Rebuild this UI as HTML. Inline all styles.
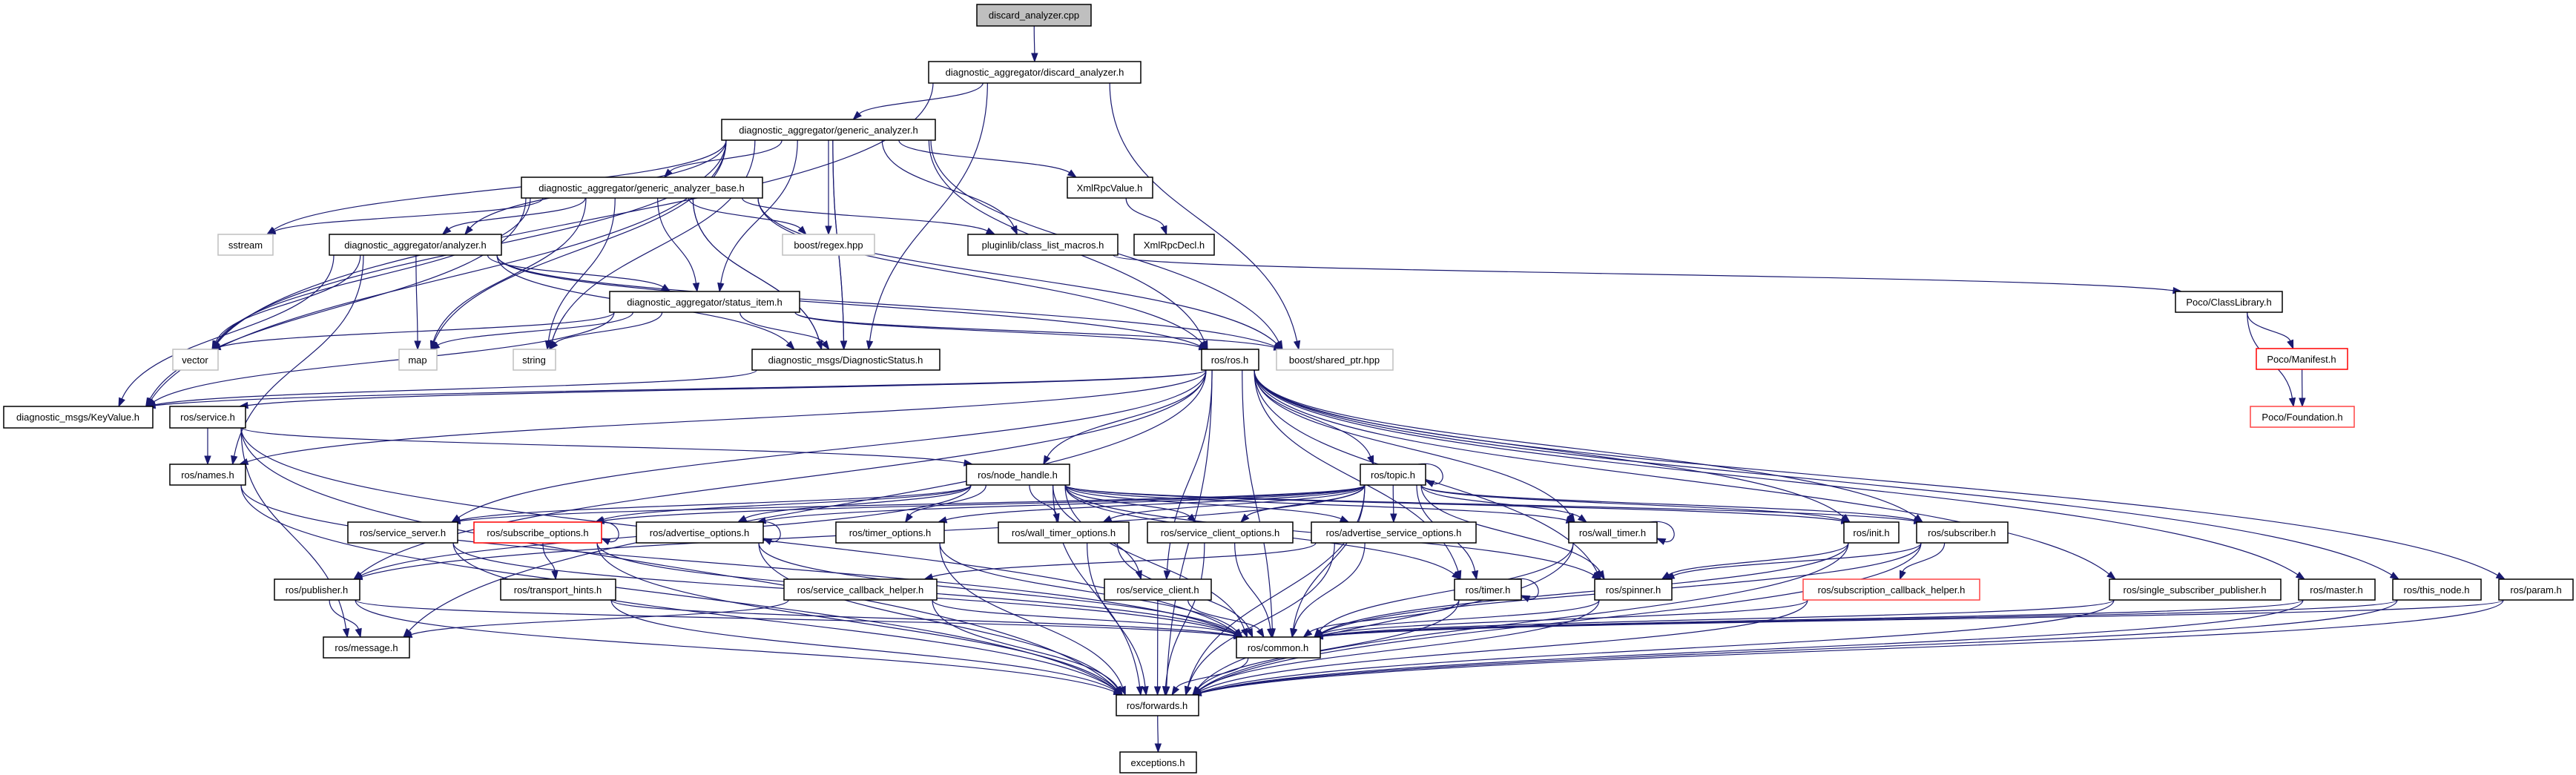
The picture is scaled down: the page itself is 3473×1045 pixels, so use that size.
<!DOCTYPE html>
<html><head><meta charset="utf-8">
<style>
html,body{margin:0;padding:0;background:#fff;}
svg{display:block;}
text{font-family:"Liberation Sans",sans-serif;font-size:13px;fill:#000;}
</style></head>
<body>
<svg id="g" width="3473" height="1045" xmlns="http://www.w3.org/2000/svg">
<g id="edges"></g>
<g id="nodes">
<rect x="1317" y="6" width="154" height="29" fill="#bfbfbf" stroke="#000" stroke-width="1.5"/><text x="1394" y="25" text-anchor="middle">discard_analyzer.cpp</text>
<rect x="1252" y="83" width="286" height="29" fill="#fff" stroke="#000" stroke-width="1.5"/><text x="1395" y="102" text-anchor="middle">diagnostic_aggregator/discard_analyzer.h</text>
<rect x="973" y="161" width="288" height="28" fill="#fff" stroke="#000" stroke-width="1.5"/><text x="1117" y="180" text-anchor="middle">diagnostic_aggregator/generic_analyzer.h</text>
<rect x="703" y="239" width="325" height="28" fill="#fff" stroke="#000" stroke-width="1.5"/><text x="865" y="258" text-anchor="middle">diagnostic_aggregator/generic_analyzer_base.h</text>
<rect x="1439" y="239" width="115" height="28" fill="#fff" stroke="#000" stroke-width="1.5"/><text x="1496" y="258" text-anchor="middle">XmlRpcValue.h</text>
<rect x="294" y="316" width="74" height="28" fill="#fff" stroke="#bfbfbf" stroke-width="1.5"/><text x="331" y="335" text-anchor="middle">sstream</text>
<rect x="444" y="316" width="232" height="28" fill="#fff" stroke="#000" stroke-width="1.5"/><text x="560" y="335" text-anchor="middle">diagnostic_aggregator/analyzer.h</text>
<rect x="1055" y="316" width="124" height="28" fill="#fff" stroke="#bfbfbf" stroke-width="1.5"/><text x="1117" y="335" text-anchor="middle">boost/regex.hpp</text>
<rect x="1305" y="316" width="202" height="28" fill="#fff" stroke="#000" stroke-width="1.5"/><text x="1406" y="335" text-anchor="middle">pluginlib/class_list_macros.h</text>
<rect x="1529" y="316" width="108" height="28" fill="#fff" stroke="#000" stroke-width="1.5"/><text x="1583" y="335" text-anchor="middle">XmlRpcDecl.h</text>
<rect x="822" y="393" width="256" height="28" fill="#fff" stroke="#000" stroke-width="1.5"/><text x="950" y="412" text-anchor="middle">diagnostic_aggregator/status_item.h</text>
<rect x="2933" y="393" width="144" height="28" fill="#fff" stroke="#000" stroke-width="1.5"/><text x="3005" y="412" text-anchor="middle">Poco/ClassLibrary.h</text>
<rect x="233" y="471" width="61" height="28" fill="#fff" stroke="#bfbfbf" stroke-width="1.5"/><text x="263" y="490" text-anchor="middle">vector</text>
<rect x="538" y="471" width="51" height="28" fill="#fff" stroke="#bfbfbf" stroke-width="1.5"/><text x="563" y="490" text-anchor="middle">map</text>
<rect x="692" y="471" width="57" height="28" fill="#fff" stroke="#bfbfbf" stroke-width="1.5"/><text x="720" y="490" text-anchor="middle">string</text>
<rect x="1014" y="471" width="253" height="28" fill="#fff" stroke="#000" stroke-width="1.5"/><text x="1140" y="490" text-anchor="middle">diagnostic_msgs/DiagnosticStatus.h</text>
<rect x="1620" y="471" width="77" height="28" fill="#fff" stroke="#000" stroke-width="1.5"/><text x="1658" y="490" text-anchor="middle">ros/ros.h</text>
<rect x="1721" y="471" width="157" height="28" fill="#fff" stroke="#bfbfbf" stroke-width="1.5"/><text x="1799" y="490" text-anchor="middle">boost/shared_ptr.hpp</text>
<rect x="3042" y="470" width="123" height="28" fill="#fff" stroke="#f00" stroke-width="1.5"/><text x="3103" y="489" text-anchor="middle">Poco/Manifest.h</text>
<rect x="5" y="548" width="201" height="29" fill="#fff" stroke="#000" stroke-width="1.5"/><text x="105" y="567" text-anchor="middle">diagnostic_msgs/KeyValue.h</text>
<rect x="229" y="548" width="102" height="29" fill="#fff" stroke="#000" stroke-width="1.5"/><text x="280" y="567" text-anchor="middle">ros/service.h</text>
<rect x="3034" y="548" width="140" height="28" fill="#fff" stroke="#f44" stroke-width="1.5"/><text x="3104" y="567" text-anchor="middle">Poco/Foundation.h</text>
<rect x="229" y="626" width="102" height="28" fill="#fff" stroke="#000" stroke-width="1.5"/><text x="280" y="645" text-anchor="middle">ros/names.h</text>
<rect x="1303" y="626" width="139" height="28" fill="#fff" stroke="#000" stroke-width="1.5"/><text x="1372" y="645" text-anchor="middle">ros/node_handle.h</text>
<rect x="1834" y="626" width="88" height="28" fill="#fff" stroke="#000" stroke-width="1.5"/><text x="1878" y="645" text-anchor="middle">ros/topic.h</text>
<rect x="469" y="704" width="148" height="28" fill="#fff" stroke="#000" stroke-width="1.5"/><text x="543" y="723" text-anchor="middle">ros/service_server.h</text>
<rect x="639" y="704" width="172" height="28" fill="#fff" stroke="#f00" stroke-width="1.5"/><text x="725" y="723" text-anchor="middle">ros/subscribe_options.h</text>
<rect x="858" y="704" width="171" height="28" fill="#fff" stroke="#000" stroke-width="1.5"/><text x="943" y="723" text-anchor="middle">ros/advertise_options.h</text>
<rect x="1127" y="704" width="146" height="28" fill="#fff" stroke="#000" stroke-width="1.5"/><text x="1200" y="723" text-anchor="middle">ros/timer_options.h</text>
<rect x="1346" y="704" width="176" height="28" fill="#fff" stroke="#000" stroke-width="1.5"/><text x="1434" y="723" text-anchor="middle">ros/wall_timer_options.h</text>
<rect x="1547" y="704" width="196" height="28" fill="#fff" stroke="#000" stroke-width="1.5"/><text x="1645" y="723" text-anchor="middle">ros/service_client_options.h</text>
<rect x="1768" y="704" width="222" height="28" fill="#fff" stroke="#000" stroke-width="1.5"/><text x="1879" y="723" text-anchor="middle">ros/advertise_service_options.h</text>
<rect x="2115" y="704" width="119" height="28" fill="#fff" stroke="#000" stroke-width="1.5"/><text x="2174" y="723" text-anchor="middle">ros/wall_timer.h</text>
<rect x="2486" y="704" width="74" height="28" fill="#fff" stroke="#000" stroke-width="1.5"/><text x="2523" y="723" text-anchor="middle">ros/init.h</text>
<rect x="2584" y="704" width="123" height="28" fill="#fff" stroke="#000" stroke-width="1.5"/><text x="2645" y="723" text-anchor="middle">ros/subscriber.h</text>
<rect x="370" y="781" width="115" height="28" fill="#fff" stroke="#000" stroke-width="1.5"/><text x="427" y="800" text-anchor="middle">ros/publisher.h</text>
<rect x="675" y="781" width="155" height="28" fill="#fff" stroke="#000" stroke-width="1.5"/><text x="752" y="800" text-anchor="middle">ros/transport_hints.h</text>
<rect x="1057" y="781" width="206" height="28" fill="#fff" stroke="#000" stroke-width="1.5"/><text x="1160" y="800" text-anchor="middle">ros/service_callback_helper.h</text>
<rect x="1489" y="781" width="144" height="28" fill="#fff" stroke="#000" stroke-width="1.5"/><text x="1561" y="800" text-anchor="middle">ros/service_client.h</text>
<rect x="1961" y="781" width="90" height="28" fill="#fff" stroke="#000" stroke-width="1.5"/><text x="2006" y="800" text-anchor="middle">ros/timer.h</text>
<rect x="2150" y="781" width="104" height="28" fill="#fff" stroke="#000" stroke-width="1.5"/><text x="2202" y="800" text-anchor="middle">ros/spinner.h</text>
<rect x="2431" y="781" width="238" height="28" fill="#fff" stroke="#f44" stroke-width="1.5"/><text x="2550" y="800" text-anchor="middle">ros/subscription_callback_helper.h</text>
<rect x="2844" y="781" width="231" height="28" fill="#fff" stroke="#000" stroke-width="1.5"/><text x="2959" y="800" text-anchor="middle">ros/single_subscriber_publisher.h</text>
<rect x="3099" y="781" width="103" height="28" fill="#fff" stroke="#000" stroke-width="1.5"/><text x="3150" y="800" text-anchor="middle">ros/master.h</text>
<rect x="3226" y="781" width="119" height="28" fill="#fff" stroke="#000" stroke-width="1.5"/><text x="3285" y="800" text-anchor="middle">ros/this_node.h</text>
<rect x="3369" y="781" width="100" height="28" fill="#fff" stroke="#000" stroke-width="1.5"/><text x="3419" y="800" text-anchor="middle">ros/param.h</text>
<rect x="436" y="859" width="116" height="28" fill="#fff" stroke="#000" stroke-width="1.5"/><text x="494" y="878" text-anchor="middle">ros/message.h</text>
<rect x="1667" y="859" width="113" height="28" fill="#fff" stroke="#000" stroke-width="1.5"/><text x="1723" y="878" text-anchor="middle">ros/common.h</text>
<rect x="1505" y="937" width="111" height="28" fill="#fff" stroke="#000" stroke-width="1.5"/><text x="1560" y="956" text-anchor="middle">ros/forwards.h</text>
<rect x="1510" y="1014" width="103" height="28" fill="#fff" stroke="#000" stroke-width="1.5"/><text x="1561" y="1033" text-anchor="middle">exceptions.h</text>
</g>
</svg>
<script>
(function(){
var N={
cpp:[1317,1471,6],dh:[1252,1538,83],gen:[973,1261,161],base:[703,1028,239],xval:[1439,1554,239],
sstream:[294,368,316],an:[444,676,316],regex:[1055,1179,316],plug:[1305,1507,316],xdecl:[1529,1637,316],
st:[822,1078,393],cl:[2933,3077,393],vector:[233,294,471],map:[538,589,471],string:[692,749,471],
ds:[1014,1267,471],ros:[1620,1697,471],sp:[1721,1878,471],man:[3042,3165,470],kv:[5,206,548],srv:[229,331,548],
fnd:[3034,3174,548],names:[229,331,626],nh:[1303,1442,626],topic:[1834,1922,626],ss:[469,617,704],
so:[639,811,704],ao:[858,1029,704],to:[1127,1273,704],wto:[1346,1522,704],sco:[1547,1743,704],
aso:[1768,1990,704],wt:[2115,2234,704],init:[2486,2560,704],sub:[2584,2707,704],pub:[370,485,781],
th:[675,830,781],sch:[1057,1263,781],sc:[1489,1633,781],timer:[1961,2051,781],spin:[2150,2254,781],
scbh:[2431,2669,781],ssp:[2844,3075,781],master:[3099,3202,781],tn:[3226,3345,781],param:[3369,3469,781],
msg:[436,552,859],common:[1667,1780,859],fw:[1505,1616,937],exc:[1510,1613,1014]};
var E="cpp dh|dh gen|dh ds|dh sp|dh vector|gen base|gen an|gen st|gen sstream|gen vector|gen map|gen string|gen kv|gen ds|gen ds|gen regex|gen plug|gen xval|gen ros|gen sp|xval xdecl|plug cl|cl man|cl fnd|man fnd|base an|base st|base sstream|base vector|base map|base string|base kv|base ds|base ds|base regex|base plug|base ros|base sp|an vector|an map|an kv|an st|an ds|an ros|an sp|an names|st vector|st map|st string|st ds|st kv|st ros|st sp|ds kv|ros kv|ros srv|ros nh|ros topic|ros pub|ros names|ros common|ros fw|ros init|ros sub|ros ssp|ros master|ros tn|ros param|ros timer|ros wt|ros spin|ros ss|ros sc|ros msg|srv names|srv msg|srv common|srv fw|srv nh|names common|names fw|nh ss|nh so|nh ao|nh to|nh wto|nh sco|nh aso|nh pub|nh sub|nh init|nh sc|nh timer|nh wt|nh spin|nh common|nh fw|topic common|topic fw|topic init|topic sub|topic pub|topic so|topic ao|topic to|topic wto|topic sco|topic aso|topic wt|topic timer|topic spin|topic ss|ss common|ss fw|so th|so common|so fw|ao common|ao fw|to common|to fw|wto common|wto fw|sco common|sco fw|aso common|aso fw|aso sch|wt common|wt fw|init common|init fw|init spin|sub common|sub fw|sub scbh|sub spin|pub msg|pub common|pub fw|th common|th fw|sch msg|sch common|sch fw|sc common|sc fw|timer common|timer fw|spin common|spin fw|scbh common|scbh fw|ssp common|ssp fw|master common|master fw|tn common|tn fw|param common|param fw|common fw|fw exc";
var loops=["topic","so","ao","wt","timer"];
var g=document.getElementById("edges"),ns="http://www.w3.org/2000/svg",C="#191970",out="";
function cl(v,m){return Math.max(-m,Math.min(m,v));}
function arrow(ex,ey,cx,cy){var dx=ex-cx,dy=ey-cy,l=Math.sqrt(dx*dx+dy*dy)||1;dx/=l;dy/=l;
var bx=ex-dx*11,by=ey-dy*11,px=-dy*4,py=dx*4;
return {bx:bx,by:by,p:'<polygon points="'+ex+','+ey+' '+(bx+px)+','+(by+py)+' '+(bx-px)+','+(by-py)+'" fill="'+C+'" stroke="'+C+'"/>'};}
E.split("|").forEach(function(s,i){var p=s.split(" "),A=N[p[0]],B=N[p[1]];
var acx=(A[0]+A[1])/2,bcx=(B[0]+B[1])/2,aw=(A[1]-A[0])/2,bw=(B[1]-B[0])/2;
var sx=acx+cl((bcx-acx)*0.25,aw-6),sy=A[2]+28,ex=bcx+cl((acx-bcx)*0.12,bw-8),ey=B[2];
var h=(ey-sy)*0.5;var c2x=ex+(sx-ex)*0.15,c2y=ey-h;
var a=arrow(ex,ey,c2x,c2y);
out+='<path d="M'+sx+' '+sy+' C'+sx+' '+(sy+h)+' '+c2x+' '+c2y+' '+a.bx+' '+a.by+'" fill="none" stroke="'+C+'" stroke-width="1.2"/>'+a.p;});
loops.forEach(function(k){var A=N[k],x=A[1],y=A[2];var a=arrow(x,y+22,x+14,y+28);
out+='<path d="M'+(x-10)+' '+y+' C'+(x+30)+' '+(y-6)+' '+(x+30)+' '+(y+30)+' '+a.bx+' '+a.by+'" fill="none" stroke="'+C+'" stroke-width="1.2"/>'+a.p;});
g.innerHTML=out;
})();
</script>
</body></html>
